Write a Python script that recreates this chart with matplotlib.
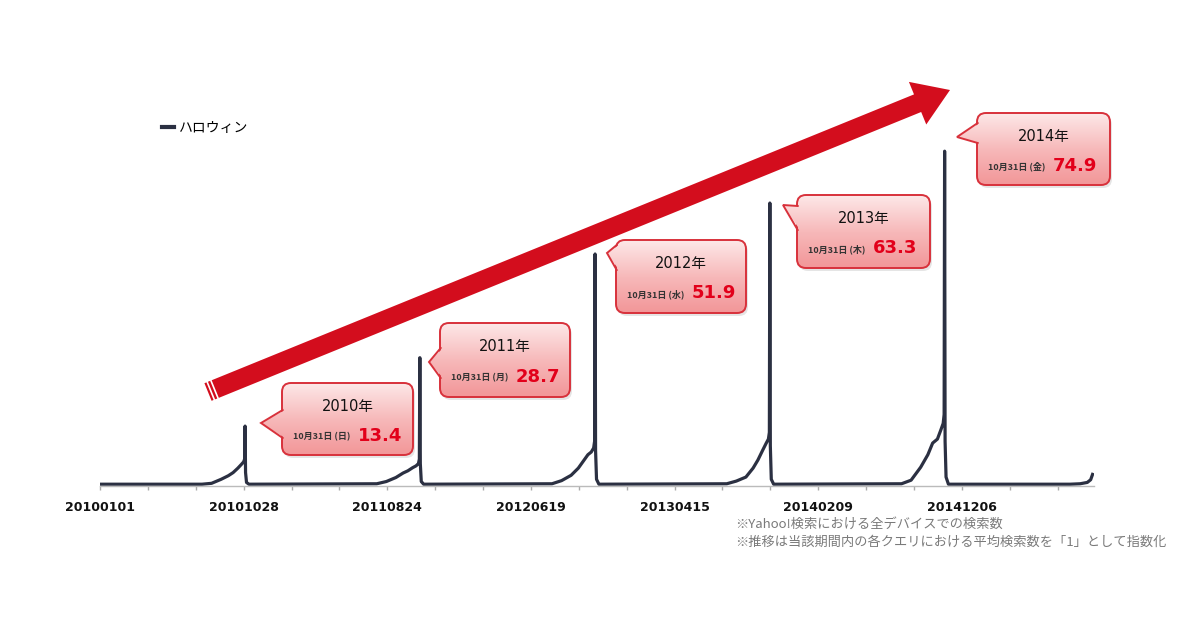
import numpy as np
import pandas as pd
import matplotlib
matplotlib.use('Agg')
import matplotlib.pyplot as plt
import matplotlib.dates as mdates
from matplotlib.patches import FancyBboxPatch, Polygon, FancyArrow
from matplotlib.colors import LinearSegmentedColormap

## data (index)
halloween = ['2010-10-31', '2011-10-31', '2012-10-31', '2013-10-31', '2014-10-31']
years = ['2010年', '2011年', '2012年', '2013年', '2014年']
weekdays = ['日', '月', '水', '木', '金']
peak_values = [13.4, 28.7, 51.9, 63.3, 74.9]

# days before / after Oct 31 and the index there
before_days = [-90, -70, -50, -35, -25, -15, -8, -3, -1]
after_days = [1, 3, 8]
before_vals = [
    [0.4, 0.6, 1.5, 2.3, 3.0, 4.0, 4.8, 5.4, 6.0],
    [0.5, 1.0, 1.9, 2.9, 3.4, 4.1, 4.5, 5.0, 6.0],
    [0.5, 1.2, 2.4, 4.0, 5.5, 7.0, 7.6, 8.5, 10.0],
    [0.5, 1.1, 2.0, 4.0, 5.8, 8.0, 9.5, 10.5, 12.0],
    [0.5, 1.3, 4.2, 7.0, 9.6, 10.5, 12.5, 14.0, 16.0],
]
after_vals = [
    [3.0, 0.8, 0.4],
    [5.0, 1.0, 0.4],
    [8.0, 1.5, 0.4],
    [9.0, 1.5, 0.4],
    [10.0, 2.0, 0.4],
]
start_date, start_val = '2010-01-01', 0.4
tail_dates = ['2015-07-20', '2015-08-10', '2015-08-25', '2015-09-01', '2015-09-05']
tail_vals = [0.4, 0.5, 0.8, 1.4, 2.6]

notes = ['※Yahoo!検索における全デバイスでの検索数',
         '※推移は当該期間内の各クエリにおける平均検索数を「1」として指数化']

## build the series
dates = [pd.Timestamp(start_date)]
vals = [start_val]
for i, h in enumerate(halloween):
    h = pd.Timestamp(h)
    for d, v in zip(before_days, before_vals[i]):
        dates.append(h + pd.Timedelta(days=d)); vals.append(v)
    dates.append(h); vals.append(peak_values[i])
    for d, v in zip(after_days, after_vals[i]):
        dates.append(h + pd.Timedelta(days=d)); vals.append(v)
dates += [pd.Timestamp(d) for d in tail_dates]
vals += tail_vals

W, H = 1200, 630
fig = plt.figure(figsize=(12, 6.3), dpi=100)
fig.patch.set_facecolor('white')

# main axes: 2010-01-01 at x=100px, y=0 at 486px
ax = fig.add_axes([100 / W, (H - 486) / H, 994 / W, 447 / H])
ax.plot(dates, vals, color='#2b3042', lw=2.3, solid_joinstyle='round', label='ハロウィン')
ax.set_xlim(pd.Timestamp('2010-01-01'), pd.Timestamp('2015-09-08'))
ax.set_ylim(0, 100)
for s in ['top', 'right', 'left']:
    ax.spines[s].set_visible(False)
ax.spines['bottom'].set_color('#bbbbbb')
ax.spines['bottom'].set_linewidth(1.0)
ax.yaxis.set_visible(False)
major = pd.date_range('2010-01-01', periods=7, freq='300D')
minor = pd.date_range('2010-01-01', periods=21, freq='100D')
ax.set_xticks(major)
ax.set_xticks(minor, minor=True)
ax.xaxis.set_major_formatter(mdates.DateFormatter('%Y%m%d'))
ax.tick_params(axis='x', which='both', direction='out', color='#aaaaaa', length=3, width=1, pad=8)
for lab in ax.get_xticklabels():
    lab.set_fontweight('bold'); lab.set_fontsize(9); lab.set_color('#111111')

leg = ax.legend(loc='center left', bbox_to_anchor=(155 / W, 1 - 128 / H), bbox_transform=fig.transFigure,
                frameon=False, handlelength=0.9, handletextpad=0.3, borderpad=0,
                prop={'family': 'Noto Sans CJK JP', 'size': 10})
leg.get_lines()[0].set_linewidth(3)

# overlay in pixel coordinates for the arrow and callouts
ov = fig.add_axes([0, 0, 1, 1], zorder=3)
ov.patch.set_alpha(0)
ov.axis('off')
ov.set_autoscale_on(False)
ov.set_xlim(0, W)
ov.set_ylim(H, 0)

# big red arrow
ax_t, ay_t, ax_h, ay_h = 208, 392, 950, 90
ov.add_patch(FancyArrow(ax_t, ay_t, ax_h - ax_t, ay_h - ay_t, width=19, head_width=46, head_length=35,
                        length_includes_head=True, fc='#d30d1d', ec='none'))
u = np.array([ax_h - ax_t, ay_h - ay_t], float); u /= np.hypot(*u)
n = np.array([-u[1], u[0]])
for s in (3, 7):
    p = np.array([ax_t, ay_t]) + s * u
    ov.plot([p[0] - 10 * n[0], p[0] + 10 * n[0]], [p[1] - 10 * n[1], p[1] + 10 * n[1]], color='white', lw=1.2)

# callouts: box (x0, y0, x1, y1), pointer tip, pointer base y range
boxes = [(282, 383, 413, 455), (440, 323, 570, 397), (616, 240, 746, 313),
         (797, 195, 930, 268), (977, 113, 1110, 185)]
tips = [(261, 423), (429, 362), (607, 253), (783, 205), (957, 137)]
bases = [(410, 438), (348, 378), (245, 270), (206, 230), (123, 143)]

pink = LinearSegmentedColormap.from_list('pink', ['#fde8e8', '#f7b9ba', '#f29698'])
grad = np.linspace(0, 1, 128).reshape(-1, 1)
edge = '#d8313b'

for i in range(5):
    x0, y0, x1, y1 = boxes[i]
    tx, ty = tips[i]
    b0, b1 = bases[i]
    # shadow
    ov.add_patch(FancyBboxPatch((x0 + 2, y0 + 3), x1 - x0, y1 - y0, boxstyle='round,pad=0,rounding_size=9',
                                fc='#cccccc', ec='none', alpha=0.5, zorder=1))
    box = FancyBboxPatch((x0, y0), x1 - x0, y1 - y0, boxstyle='round,pad=0,rounding_size=9',
                         fc='none', ec=edge, lw=1.4, zorder=3)
    ov.add_patch(box)
    im = ov.imshow(grad, extent=(tx - 2, x1, y1, y0), aspect='auto', cmap=pink, origin='upper', zorder=2)
    im.set_clip_path(box)
    ptr = Polygon([(tx, ty), (x0 + 3, b0), (x0 + 3, b1)], closed=True, fc='none', ec='none')
    ov.add_patch(ptr)
    im2 = ov.imshow(grad, extent=(tx - 2, x1, y1, y0), aspect='auto', cmap=pink, origin='upper', zorder=4)
    im2.set_clip_path(ptr)
    ov.plot([x0 + 0.7, tx, x0 + 0.7], [b0, ty, b1], color=edge, lw=1.4, zorder=5, solid_joinstyle='miter')

    h = y1 - y0
    ov.text((x0 + x1) / 2, y0 + 0.32 * h, years[i], ha='center', va='center', fontsize=10.5,
            color='#111111', family=['DejaVu Sans', 'Noto Sans CJK JP'], zorder=6)
    ov.text(x0 + 11, y0 + 0.74 * h, f'10月31日 ({weekdays[i]})', ha='left', va='center', fontsize=6.5,
            color='#333333', family=['Noto Sans CJK JP'], fontweight='bold', zorder=6)
    ov.text(x0 + 76, y0 + 0.73 * h, f'{peak_values[i]}', ha='left', va='center', fontsize=13,
            color='#e2001a', fontweight='bold', family='DejaVu Sans', zorder=6)

# notes
for k, t in enumerate(notes):
    ov.text(735, 524 + 18 * k, t, ha='left', va='center', fontsize=9.5, color='#7a7a7a',
            family=['Noto Sans CJK JP', 'DejaVu Sans'])

fig.savefig('out.png', dpi=100)
